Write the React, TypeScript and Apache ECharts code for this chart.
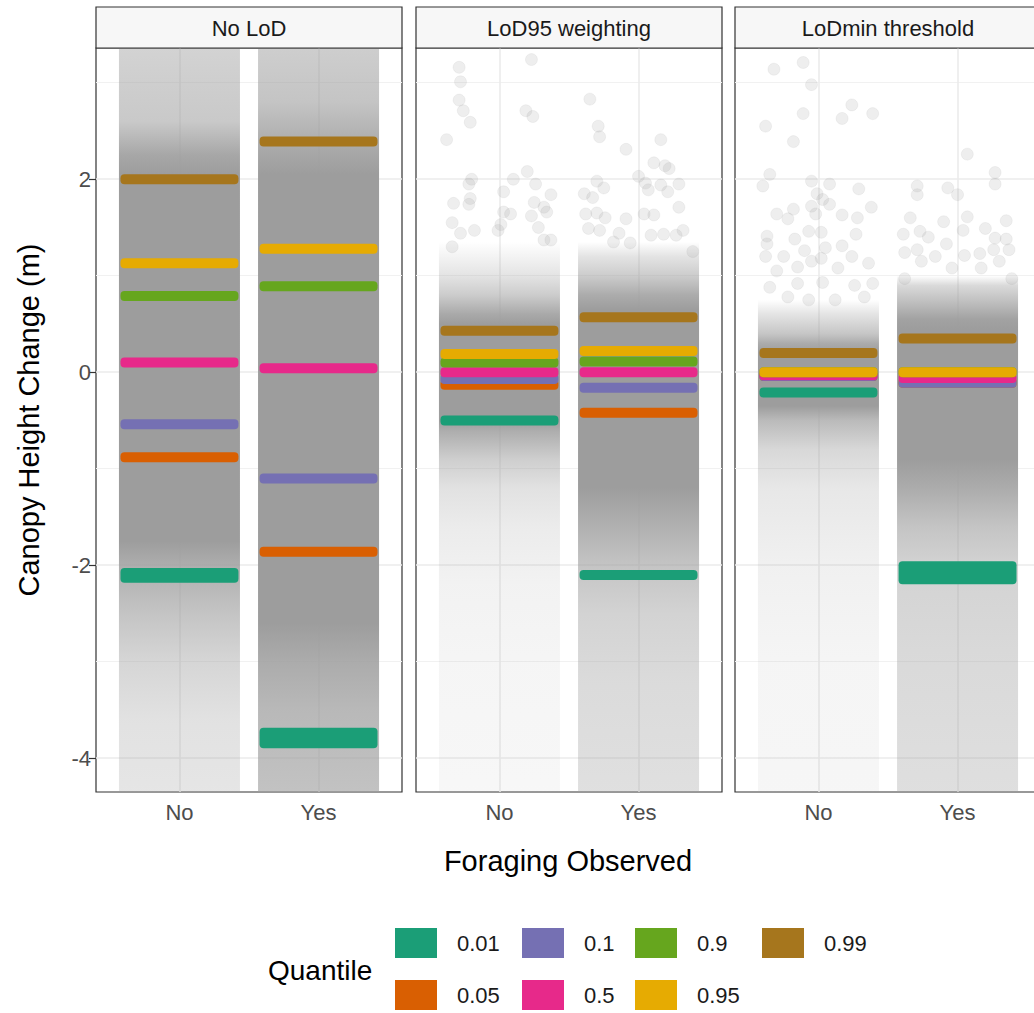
import { useEffect, useRef } from "react";
import * as echarts from "echarts";

// ---------------- data ----------------
const facets = ["No LoD", "LoD95 weighting", "LoDmin threshold"];
const categories = ["No", "Yes"];
const yTicks = [-4, -2, 0, 2];
const yMinorTicks = [-3, -1, 1, 3];
const yRange = [-4.35, 3.36];
const quantileLevels = ["0.01", "0.05", "0.1", "0.5", "0.9", "0.95", "0.99"];
const quantileColors = ["#1B9E77", "#D95F02", "#7570B3", "#E7298A", "#66A61E", "#E6AB02", "#A6761D"];

// quantile values [low, high] per level (same order as quantileLevels)
const qNoLodNo = [[-2.13, -2.08], [-0.88, -0.88], [-0.54, -0.54], [0.1, 0.1], [0.79, 0.79], [1.13, 1.13], [2.0, 2.0]];
const qNoLodYes = [[-3.845, -3.735], [-1.86, -1.86], [-1.1, -1.1], [0.04, 0.04], [0.89, 0.89], [1.28, 1.28], [2.39, 2.39]];
const qLod95No = [[-0.5, -0.5], [-0.13, -0.13], [-0.07, -0.07], [0, 0], [0.1, 0.1], [0.19, 0.19], [0.43, 0.43]];
const qLod95Yes = [[-2.1, -2.1], [-0.42, -0.42], [-0.16, -0.16], [0, 0], [0.11, 0.11], [0.22, 0.22], [0.57, 0.57]];
const qLodminNo = [[-0.21, -0.21], [-0.04, -0.04], [-0.04, -0.04], [-0.03, -0.03], [0, 0], [0, 0], [0.2, 0.2]];
const qLodminYes = [[-2.145, -2.01], [-0.11, -0.11], [-0.11, -0.11], [-0.06, -0.06], [0, 0], [0, 0], [0.35, 0.35]];

// point-cloud density profile: [value, relative density]
const dNoLodNo = [[3.36, 0.45], [2.6, 0.55], [2.25, 0.9], [2.05, 1], [-1.75, 1], [-2.05, 0.8], [-2.5, 0.6], [-3.0, 0.42], [-3.6, 0.3], [-4.35, 0.26]];
const dNoLodYes = [[3.36, 0.5], [2.8, 0.6], [2.3, 0.88], [2.05, 1], [-2.6, 1], [-3.0, 0.85], [-3.5, 0.72], [-4.35, 0.62]];
const dLod95No = [[1.35, 0], [1.2, 0.12], [1.0, 0.28], [0.8, 0.52], [0.6, 0.88], [0.5, 1], [-0.5, 1], [-0.62, 0.82], [-0.9, 0.5], [-1.2, 0.3], [-1.6, 0.2], [-2.2, 0.13], [-3.0, 0.1], [-4.35, 0.08]];
const dLod95Yes = [[1.35, 0], [1.2, 0.28], [1.0, 0.52], [0.8, 0.85], [0.65, 1], [-1.2, 1], [-1.6, 0.8], [-2.0, 0.6], [-2.5, 0.45], [-3.2, 0.37], [-4.35, 0.32]];
const dLodminNo = [[0.75, 0], [0.6, 0.28], [0.4, 0.58], [0.3, 0.85], [0.2, 1], [-0.35, 1], [-0.5, 0.7], [-0.8, 0.4], [-1.2, 0.24], [-2.0, 0.15], [-3.0, 0.1], [-4.35, 0.09]];
const dLodminYes = [[1.0, 0], [0.9, 0.38], [0.7, 0.7], [0.55, 0.95], [0.45, 1], [-0.9, 1], [-1.2, 0.85], [-1.6, 0.6], [-2.0, 0.45], [-3.0, 0.38], [-4.35, 0.33]];

// isolated points: [jitter offset, value]
const pNoLodNo: number[][] = [];
const pNoLodYes: number[][] = [];
const pLod95No = [
  [-0.29, 3.16], [-0.28, 3.01], [-0.29, 2.82], [-0.26, 2.71], [-0.21, 2.59], [-0.38, 2.41], [0.23, 3.24], [0.19, 2.71],
  [0.24, 2.65], [-0.2, 2.0], [-0.22, 1.95], [-0.21, 1.8], [-0.22, 1.74], [-0.33, 1.75], [-0.34, 1.55], [-0.28, 1.44],
  [-0.18, 1.47], [-0.34, 1.3], [0.2, 2.08], [0.1, 2.0], [0.03, 1.87], [0.26, 1.95], [0.37, 1.84], [0.25, 1.76],
  [0.32, 1.71], [0.34, 1.66], [0.23, 1.62], [0.28, 1.5], [0.03, 1.66], [0.08, 1.64], [-0.01, 1.47], [0.01, 1.53],
  [0.37, 1.37], [0.32, 1.37],
];
const pLod95Yes = [
  [-0.35, 2.83], [-0.29, 2.55], [-0.28, 2.44], [-0.09, 2.31], [0.16, 2.41], [0.11, 2.17], [0.19, 2.14], [0.22, 2.11],
  [0.0, 2.03], [0.05, 1.96], [0.16, 1.94], [0.29, 1.95], [0.21, 1.87], [0.07, 1.89], [-0.3, 1.98], [-0.25, 1.91],
  [-0.39, 1.85], [-0.33, 1.81], [0.29, 1.71], [-0.38, 1.64], [-0.3, 1.65], [-0.24, 1.6], [-0.09, 1.59], [0.04, 1.64],
  [0.11, 1.63], [-0.36, 1.49], [-0.28, 1.47], [0.32, 1.47], [-0.14, 1.44], [0.18, 1.43], [0.09, 1.42], [0.27, 1.42],
  [-0.06, 1.34], [-0.18, 1.35], [0.39, 1.25],
];
const pLodminNo = [
  [-0.32, 3.14], [-0.11, 3.21], [-0.05, 2.98], [-0.11, 2.68], [-0.38, 2.55], [-0.18, 2.39], [0.17, 2.63], [0.24, 2.77],
  [0.39, 2.68], [-0.35, 2.05], [-0.4, 1.93], [-0.05, 1.98], [0.08, 1.95], [0.29, 1.9], [-0.01, 1.85], [0.03, 1.79],
  [0.08, 1.74], [-0.18, 1.69], [-0.3, 1.64], [-0.22, 1.59], [-0.05, 1.72], [-0.02, 1.64], [0.17, 1.63], [0.28, 1.6],
  [0.38, 1.71], [-0.07, 1.46], [0.02, 1.45], [-0.37, 1.41], [-0.37, 1.33], [-0.17, 1.38], [0.27, 1.43], [0.05, 1.29],
  [0.17, 1.31], [-0.1, 1.26], [-0.38, 1.2], [-0.25, 1.2], [0.02, 1.18], [0.24, 1.2], [-0.15, 1.09], [-0.05, 1.15],
  [0.36, 1.13], [0.14, 1.08], [-0.3, 1.05], [-0.15, 0.92], [0.03, 0.93], [-0.35, 0.88], [0.26, 0.9], [0.39, 0.92],
  [-0.22, 0.78], [-0.07, 0.75], [0.12, 0.75], [0.33, 0.78],
];
const pLodminYes = [
  [0.07, 2.26], [0.27, 2.07], [0.27, 1.95], [-0.29, 1.93], [-0.29, 1.84], [-0.07, 1.91], [0.0, 1.84], [-0.34, 1.6],
  [-0.39, 1.43], [-0.27, 1.46], [-0.21, 1.4], [-0.1, 1.56], [0.07, 1.61], [0.04, 1.47], [0.2, 1.49], [0.35, 1.57],
  [0.27, 1.39], [0.35, 1.38], [-0.08, 1.33], [-0.38, 1.24], [-0.29, 1.27], [-0.16, 1.2], [0.05, 1.21], [0.16, 1.23],
  [0.26, 1.27], [0.37, 1.27], [-0.26, 1.15], [-0.04, 1.08], [0.17, 1.08], [0.3, 1.15], [0.39, 0.97], [-0.38, 0.97],
];

const quantiles = [[qNoLodNo, qNoLodYes], [qLod95No, qLod95Yes], [qLodminNo, qLodminYes]];
const densities = [[dNoLodNo, dNoLodYes], [dLod95No, dLod95Yes], [dLodminNo, dLodminYes]];
const points = [[pNoLodNo, pNoLodYes], [pLod95No, pLod95Yes], [pLodminNo, pLodminYes]];

// ---------------- layout / style ----------------
const FONT = "'Liberation Sans', Arial, Helvetica, sans-serif";
const PANEL_LEFT = [96, 416, 735];
const PANEL_W = 306;
const PANEL_TOP = 48;
const PANEL_H = 744;
const STRIP_TOP = 7;
const GREY = [157, 157, 157];
const CLOUD_HALF = 0.435;
const BAR_HALF = 0.424;
const BAR_THICK = 10;
const LEGEND_COL_X = [395, 522, 635, 762];
const LEGEND_ROW_Y = [928, 980];

export default function App() {
  const ref = useRef<HTMLDivElement>(null);
  useEffect(() => {
    if (!ref.current) return;
    const chart = echarts.init(ref.current, null, { renderer: "svg" });

    const grids: any[] = [];
    const xAxes: any[] = [];
    const yAxes: any[] = [];
    const series: any[] = [];
    const graphics: any[] = [];

    facets.forEach((name, f) => {
      grids.push({
        left: PANEL_LEFT[f], top: PANEL_TOP, width: PANEL_W, height: PANEL_H,
        show: true, borderColor: "#333", borderWidth: 1.2, backgroundColor: "#fff",
      });
      xAxes.push({
        type: "value", gridIndex: f, min: 0.4, max: 2.6,
        axisLine: { show: false },
        axisTick: { show: true, customValues: [1, 2], length: 7, lineStyle: { color: "#333", width: 1.2 } },
        axisLabel: {
          show: true, customValues: [1, 2], margin: 9, fontSize: 22, color: "#4d4d4d", fontFamily: FONT,
          formatter: (v: number) => categories[Math.round(v) - 1],
        },
        splitLine: { show: true, lineStyle: { color: "#ebebeb", width: 1.6 } },
      });
      yAxes.push({
        type: "value", gridIndex: f, min: yRange[0], max: yRange[1],
        axisLine: { show: false },
        axisTick: { show: f === 0, customValues: yTicks, length: 7, lineStyle: { color: "#333", width: 1.2 } },
        axisLabel: { show: f === 0, customValues: yTicks, margin: 5, fontSize: 22, color: "#4d4d4d", fontFamily: FONT },
        splitLine: { show: true, lineStyle: { color: "#ebebeb", width: 1.6 } },
      });

      // strip
      graphics.push({
        type: "rect", shape: { x: PANEL_LEFT[f], y: STRIP_TOP, width: PANEL_W, height: PANEL_TOP - STRIP_TOP },
        style: { fill: "#f7f7f7", stroke: "#333", lineWidth: 1.2 }, z: 10,
      });
      graphics.push({
        type: "text", x: PANEL_LEFT[f] + PANEL_W / 2, y: (STRIP_TOP + PANEL_TOP) / 2 + 1, z: 11,
        style: { text: name, fontSize: 22, fontFamily: FONT, fill: "#1a1a1a", textAlign: "center", textVerticalAlign: "middle" },
      });

      categories.forEach((_, c) => {
        const prof = densities[f][c];
        const top = prof[0][0];
        const bot = prof[prof.length - 1][0];
        series.push({
          type: "custom", xAxisIndex: f, yAxisIndex: f, silent: true, z: 1,
          data: [[c + 1, top, bot]],
          renderItem: (params: any, api: any) => {
            const x = api.value(0);
            const a = api.coord([x - CLOUD_HALF, api.value(1)]);
            const b = api.coord([x + CLOUD_HALF, api.value(2)]);
            const stops = prof.map(([v, o]) => ({
              offset: (top - v) / (top - bot),
              color: `rgba(${GREY[0]},${GREY[1]},${GREY[2]},${o})`,
            }));
            return {
              type: "rect",
              shape: { x: a[0], y: a[1], width: b[0] - a[0], height: b[1] - a[1] },
              style: { fill: new echarts.graphic.LinearGradient(0, 0, 0, 1, stops) },
            };
          },
        });
        series.push({
          type: "scatter", xAxisIndex: f, yAxisIndex: f, silent: true, z: 2,
          symbolSize: 12,
          itemStyle: { color: "rgba(150,150,150,0.2)", borderColor: "rgba(140,140,140,0.12)", borderWidth: 1 },
          data: points[f][c].map(([dx, v]) => [c + 1 + dx, v]),
        });
        series.push({
          type: "custom", xAxisIndex: f, yAxisIndex: f, silent: true, z: 3,
          data: quantiles[f][c].map(([lo, hi], k) => [c + 1, lo, hi, k]),
          renderItem: (params: any, api: any) => {
            const x = api.value(0);
            const a = api.coord([x - BAR_HALF, api.value(2)]);
            const b = api.coord([x + BAR_HALF, api.value(1)]);
            return {
              type: "rect",
              shape: { x: a[0], y: a[1] - BAR_THICK / 2, width: b[0] - a[0], height: b[1] - a[1] + BAR_THICK, r: 4 },
              style: { fill: quantileColors[api.value(3)] },
            };
          },
        });
      });
    });

    // minor grid lines
    facets.forEach((_, f) => {
      yAxes.push({
        type: "value", gridIndex: f, min: yRange[0], max: yRange[1],
        axisLine: { show: false },
        axisTick: { show: false, customValues: yMinorTicks },
        axisLabel: { show: false, customValues: yMinorTicks },
        splitLine: { show: true, lineStyle: { color: "#f1f1f1", width: 1 } },
      });
    });

    // axis titles
    graphics.push({
      type: "text", x: 568, y: 861,
      style: { text: "Foraging Observed", fontSize: 29, fontFamily: FONT, fill: "#000", textAlign: "center", textVerticalAlign: "middle" },
    });
    graphics.push({
      type: "text", x: 29, y: PANEL_TOP + PANEL_H / 2, rotation: Math.PI / 2,
      style: { text: "Canopy Height Change (m)", fontSize: 29, fontFamily: FONT, fill: "#000", textAlign: "center", textVerticalAlign: "middle" },
    });

    // legend
    graphics.push({
      type: "text", x: 268, y: 970,
      style: { text: "Quantile", fontSize: 28, fontFamily: FONT, fill: "#000", textAlign: "left", textVerticalAlign: "middle" },
    });
    quantileLevels.forEach((lvl, k) => {
      const col = Math.floor(k / 2);
      const row = k % 2;
      const kx = LEGEND_COL_X[col];
      const ky = LEGEND_ROW_Y[row];
      graphics.push({
        type: "rect", shape: { x: kx, y: ky, width: 42, height: 30 },
        style: { fill: quantileColors[k] },
      });
      graphics.push({
        type: "text", x: kx + 62, y: ky + 15,
        style: { text: lvl, fontSize: 22, fontFamily: FONT, fill: "#1a1a1a", textAlign: "left", textVerticalAlign: "middle" },
      });
    });

    chart.setOption({
      animation: false,
      backgroundColor: "#fff",
      grid: grids,
      xAxis: xAxes,
      yAxis: yAxes,
      series,
      graphic: graphics,
    });
    return () => chart.dispose();
  }, []);
  return <div ref={ref} style={{ position: "fixed", left: 0, top: 0, width: 1048, height: 1013 }} />;
}
